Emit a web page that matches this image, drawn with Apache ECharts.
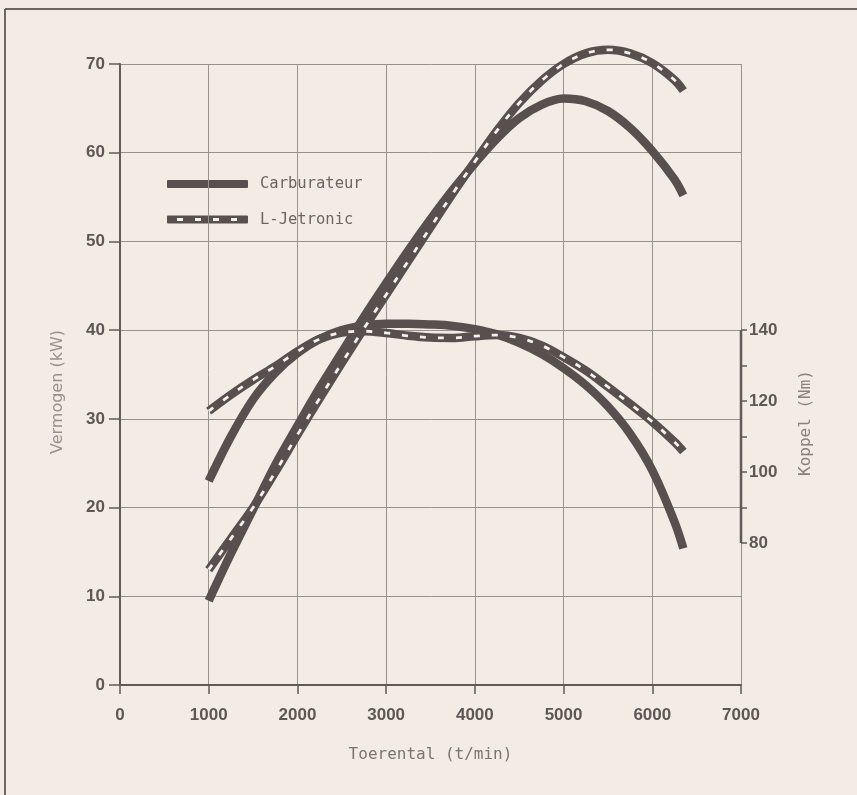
<!DOCTYPE html>
<html>
<head>
<meta charset="utf-8">
<script src="https://cdn.jsdelivr.net/npm/echarts@6/dist/echarts.min.js"></script>
<style>
  html, body { margin: 0; padding: 0; background: #f3ece4; }
  #chart { width: 857px; height: 795px; }
</style>
</head>
<body>
<div id="chart"></div>
<script>
// ---- data ----
const rpm = [1000,1250,1500,1750,2000,2250,2500,2750,3000,3250,3500,3750,4000,4250,4500,4750,5000,5250,5500,5750,6000,6250,6350];
const carbPowerKW = [9.5,14.8,19.8,24.8,29.2,33.5,37.5,41.5,45.3,49.0,52.5,55.8,58.8,61.6,63.9,65.4,66.1,65.8,64.7,62.8,60.2,57.0,55.2];
const ljetPowerKW = [13.0,16.5,20.0,24.0,28.2,32.3,36.3,40.2,44.0,47.8,51.6,55.4,59.0,62.5,65.6,68.1,70.0,71.2,71.6,71.2,70.1,68.2,67.0];
const carbTorqueNm = [97.5,110.0,120.5,128.0,133.5,137.5,140.0,141.3,141.8,141.8,141.6,141.2,140.3,138.8,136.4,133.3,129.3,124.5,118.5,110.8,100.5,86.0,78.5];
const ljetTorqueNm = [117.2,121.8,126.0,129.8,134.0,137.5,139.3,139.7,139.2,138.4,137.9,137.8,138.3,138.6,137.8,135.7,132.4,128.6,124.0,119.2,114.2,108.5,105.8];
const xTicks = [0,1000,2000,3000,4000,5000,6000,7000];
const kwTicks = [0,10,20,30,40,50,60,70];
const nmLabelTicks = [80,100,120,140];
const nmMinorTicks = [80,90,100,110,120,130,140];
const seriesNames = ['Carburateur','L-Jetronic'];

const zip = (xs, ys) => xs.map((x, i) => [x, ys[i]]);

const ink = '#57504e';
const axisInk = '#615a57';
const gridInk = '#9a918d';
const labelInk = '#5e5754';
const nameInk = '#8a807c';
const mono = "'DejaVu Sans Mono', 'Liberation Mono', monospace";
const sans = "'Liberation Sans', Arial, sans-serif";

const chart = echarts.init(document.getElementById('chart'), null, {renderer: 'canvas'});

const thick = 8.5;
const dash = {color: '#f6f1ec', width: 2.8, type: [6, 12]};

chart.setOption({
  backgroundColor: '#f3ece4',
  animation: false,
  grid: {left: 120, right: 116, top: 64, bottom: 110, containLabel: false},
  xAxis: {
    type: 'value', min: xTicks[0], max: xTicks[xTicks.length - 1], interval: 1000,
    name: 'Toerental (t/min)', nameLocation: 'middle', nameGap: 62,
    nameTextStyle: {fontFamily: mono, fontSize: 16, color: '#7d7471'},
    axisLine: {show: true, lineStyle: {color: axisInk, width: 2}},
    axisTick: {show: true, inside: false, length: 9, lineStyle: {color: axisInk, width: 1.5}},
    axisLabel: {fontFamily: sans, fontWeight: 'bold', fontSize: 17, color: labelInk, margin: 22,
                formatter: v => String(v)},
    splitLine: {show: true, lineStyle: {color: gridInk, width: 1}}
  },
  yAxis: [
    {
      type: 'value', min: kwTicks[0], max: kwTicks[kwTicks.length - 1], interval: 10,
      axisLine: {show: true, lineStyle: {color: axisInk, width: 2}},
      axisTick: {show: true, length: 11, lineStyle: {color: axisInk, width: 1.5}},
      axisLabel: {fontFamily: sans, fontWeight: 'bold', fontSize: 17, color: labelInk, margin: 15,
                  formatter: v => String(v)},
      splitLine: {show: true, lineStyle: {color: gridInk, width: 1}}
    },
    {
      type: 'value', min: 40, max: 215, interval: 10, position: 'right',
      axisLine: {show: false},
      axisTick: {show: true, customValues: nmMinorTicks, length: 6, lineStyle: {color: axisInk, width: 1.5}},
      axisLabel: {customValues: nmLabelTicks, fontFamily: sans, fontWeight: 'bold', fontSize: 17, color: labelInk, margin: 8,
                  formatter: v => String(v)},
      splitLine: {show: false}
    }
  ],
  series: [
    {
      name: 'nm-axis', type: 'line', yAxisIndex: 1, silent: true, symbol: 'none',
      data: [[xTicks[xTicks.length - 1], nmLabelTicks[0]], [xTicks[xTicks.length - 1], nmLabelTicks[nmLabelTicks.length - 1]]],
      lineStyle: {color: axisInk, width: 2.5}, z: 3
    },
    {
      name: seriesNames[0], type: 'line', yAxisIndex: 0, symbol: 'none', smooth: 0.35, clip: false,
      data: zip(rpm, carbPowerKW), lineStyle: {color: ink, width: thick}, z: 4
    },
    {
      name: seriesNames[1], type: 'line', yAxisIndex: 0, symbol: 'none', smooth: 0.35, clip: false,
      data: zip(rpm, ljetPowerKW), lineStyle: {color: ink, width: thick}, z: 5
    },
    {
      name: seriesNames[1] + ' dash', type: 'line', yAxisIndex: 0, symbol: 'none', smooth: 0.35, clip: false,
      data: zip(rpm, ljetPowerKW), lineStyle: dash, z: 6
    },
    {
      name: seriesNames[0] + ' koppel', type: 'line', yAxisIndex: 1, symbol: 'none', smooth: 0.35, clip: false,
      data: zip(rpm, carbTorqueNm), lineStyle: {color: ink, width: thick}, z: 4
    },
    {
      name: seriesNames[1] + ' koppel', type: 'line', yAxisIndex: 1, symbol: 'none', smooth: 0.35, clip: false,
      data: zip(rpm, ljetTorqueNm), lineStyle: {color: ink, width: thick}, z: 5
    },
    {
      name: seriesNames[1] + ' koppel dash', type: 'line', yAxisIndex: 1, symbol: 'none', smooth: 0.35, clip: false,
      data: zip(rpm, ljetTorqueNm), lineStyle: dash, z: 6
    }
  ],
  graphic: [
    // outer frame (top and left edges)
    {type: 'line', shape: {x1: 5, y1: 9, x2: 857, y2: 9}, style: {stroke: '#6d6663', lineWidth: 2}},
    {type: 'line', shape: {x1: 5, y1: 9, x2: 5, y2: 795}, style: {stroke: '#6d6663', lineWidth: 2}},
    // axis titles
    {type: 'text', x: 58, y: 392, rotation: Math.PI / 2,
     style: {text: 'Vermogen (kW)', align: 'center', verticalAlign: 'middle', font: "16px 'DejaVu Sans', sans-serif", fill: '#9a8f8b'}},
    {type: 'text', x: 806, y: 423, rotation: Math.PI / 2,
     style: {text: 'Koppel (Nm)', align: 'center', verticalAlign: 'middle', font: "16px " + mono, fill: nameInk}},
    // legend
    {type: 'rect', shape: {x: 167, y: 180, width: 81, height: 8, r: 1}, style: {fill: ink}},
    {type: 'text', x: 260, y: 184, style: {text: seriesNames[0], verticalAlign: 'middle', font: "15.5px " + mono, fill: '#6e6562'}},
    {type: 'rect', shape: {x: 167, y: 215.5, width: 81, height: 8, r: 1}, style: {fill: ink}},
    {type: 'line', shape: {x1: 177, y1: 219.5, x2: 240, y2: 219.5}, style: {stroke: '#f6f1ec', lineWidth: 2.8, lineDash: [6, 12]}},
    {type: 'text', x: 260, y: 220, style: {text: seriesNames[1], verticalAlign: 'middle', font: "15.5px " + mono, fill: '#6e6562'}}
  ]
});
</script>
</body>
</html>
